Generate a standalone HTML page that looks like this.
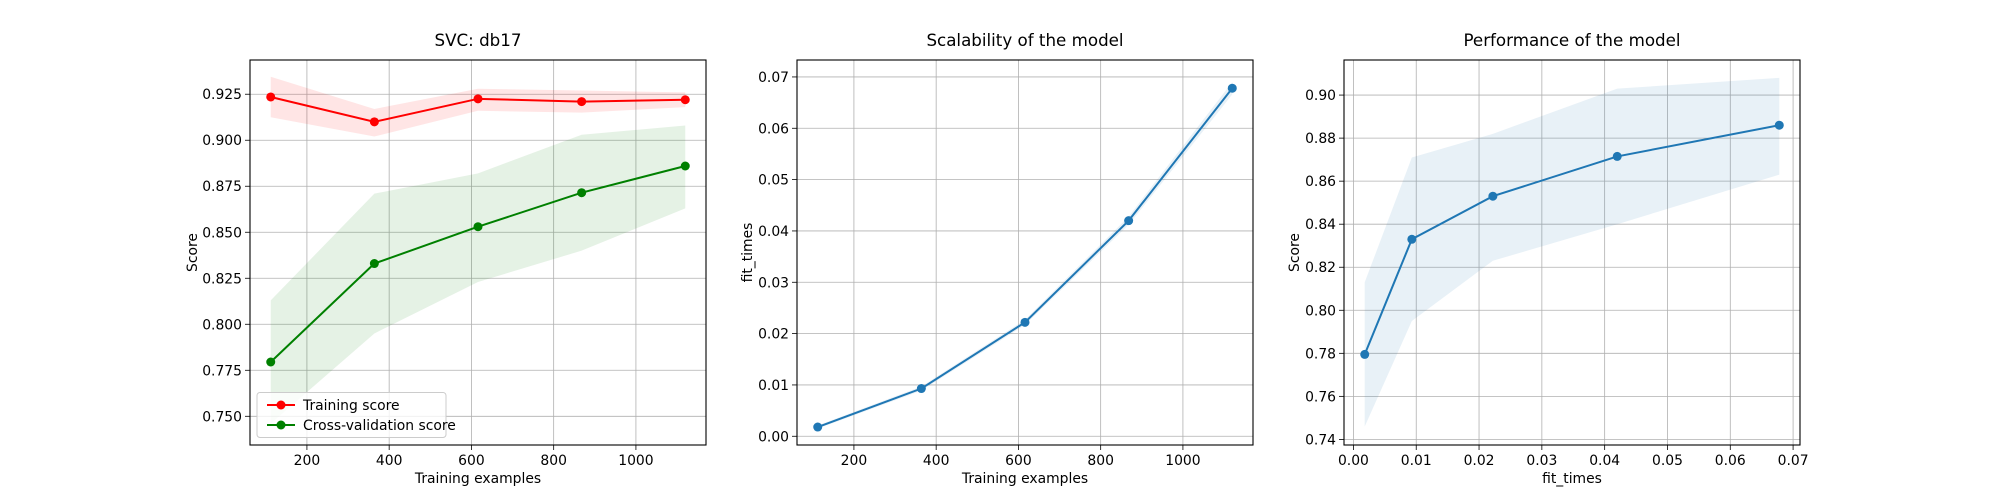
<!DOCTYPE html>
<html><head><meta charset="utf-8"><style>
body{margin:0;background:#fff;}
svg{display:block;font-family:"DejaVu Sans","Liberation Sans",sans-serif;}
</style></head><body>
<svg id="fig" width="2000" height="500" viewBox="0 0 2000 500" xmlns="http://www.w3.org/2000/svg"></svg>
<script>
const trainSizes=[112,364,616,868,1120];
const trainMean=[0.9235,0.910,0.9225,0.921,0.922];
const trainUpper=[0.9345,0.917,0.928,0.927,0.926];
const trainLower=[0.9125,0.902,0.916,0.915,0.918];
const cvMean=[0.7795,0.833,0.853,0.8715,0.886];
const cvUpper=[0.813,0.871,0.882,0.903,0.908];
const cvLower=[0.746,0.795,0.823,0.840,0.863];
const fitTimes=[0.0018,0.0093,0.0222,0.0420,0.0678];
const fitUpper=[0.0021,0.0097,0.0227,0.0428,0.0690];
const fitLower=[0.0015,0.0089,0.0217,0.0412,0.0666];
const ticks1X=[200,400,600,800,1000];
const ticks1Y=[0.750,0.775,0.800,0.825,0.850,0.875,0.900,0.925];
const ticks2Y=[0.00,0.01,0.02,0.03,0.04,0.05,0.06,0.07];
const ticks3X=[0.00,0.01,0.02,0.03,0.04,0.05,0.06,0.07];
const ticks3Y=[0.74,0.76,0.78,0.80,0.82,0.84,0.86,0.88,0.90];

const NS="http://www.w3.org/2000/svg";
const fig=document.getElementById('fig');
function mk(tag,attrs,parent,text){const e=document.createElementNS(NS,tag);for(const k in attrs)e.setAttribute(k,attrs[k]);if(text!==undefined)e.textContent=text;(parent||fig).appendChild(e);return e;}

function axes(o){
  const g=mk('g',{});
  
  
  const L=o.left,R=o.left+456,T=60,B=445;
  const sx=v=>L+(v-o.xlim[0])/(o.xlim[1]-o.xlim[0])*(R-L);
  const sy=v=>B-(v-o.ylim[0])/(o.ylim[1]-o.ylim[0])*(B-T);
  // grid
  o.xt.forEach(t=>{const x=sx(t);
    const l=mk('line',{x1:x,x2:x,y1:T,y2:B,stroke:'#b0b0b0','stroke-width':0.8},g);
    
    mk('line',{x1:x,x2:x,y1:B,y2:B+5,stroke:'#000','stroke-width':0.8},g);
    const tx=mk('text',{x:x,y:B+20,'font-size':13.9,'text-anchor':'middle'},g,o.xfmt(t));
    
  });
  o.yt.forEach(t=>{const y=sy(t);
    const l=mk('line',{x1:L,x2:R,y1:y,y2:y,stroke:'#b0b0b0','stroke-width':0.8},g);
    
    mk('line',{x1:L-5,x2:L,y1:y,y2:y,stroke:'#000','stroke-width':0.8},g);
    const tx=mk('text',{x:L-8,y:y+5,'font-size':13.9,'text-anchor':'end'},g,o.yfmt(t));
    
  });
  o.series.forEach(s=>{
    let pts=s.x.map((v,i)=>sx(v)+','+sy(s.up[i]));
    for(let i=s.x.length-1;i>=0;i--)pts.push(sx(s.x[i])+','+sy(s.lo[i]));
    const band=mk('polygon',{points:pts.join(' '),fill:s.color,'fill-opacity':0.1},g);
    
    const line=mk('polyline',{points:s.x.map((v,i)=>sx(v)+','+sy(s.y[i])).join(' '),fill:'none',stroke:s.color,'stroke-width':2},g);
    
    s.x.forEach((v,i)=>{const c=mk('circle',{cx:sx(v),cy:sy(s.y[i]),r:4.5,fill:s.color},g);
      });
  });
  mk('rect',{x:L,y:T,width:R-L,height:B-T,fill:'none',stroke:'#000','stroke-width':1.1},g);
  const ti=mk('text',{x:(L+R)/2,y:T-14,'font-size':16.7,'text-anchor':'middle'},g,o.title);
  
  const xl=mk('text',{x:(L+R)/2,y:B+38,'font-size':13.9,'text-anchor':'middle'},g,o.xlabel);
  
  const yx=L-o.ylabOff,yy=(T+B)/2;
  const yl=mk('text',{x:yx,y:yy,'font-size':13.9,'text-anchor':'middle',transform:`rotate(-90 ${yx} ${yy})`},g,o.ylabel);
  
  return {g,L,B};
}
const f3=v=>v.toFixed(3), f2=v=>v.toFixed(2), f0=v=>String(v);
const a1=axes({name:'learning-curve-axes',left:250,xlim:[61.6,1170.4],ylim:[0.7344,0.9436],xt:ticks1X,yt:ticks1Y,xfmt:f0,yfmt:f3,
  title:'SVC: db17',xlabel:'Training examples',ylabel:'Score',ylabOff:53,
  series:[{key:'training-score',x:trainSizes,y:trainMean,up:trainUpper,lo:trainLower,color:'#ff0000'},
          {key:'cv-score',x:trainSizes,y:cvMean,up:cvUpper,lo:cvLower,color:'#008000'}]});
axes({name:'scalability-axes',left:797,xlim:[61.6,1170.4],ylim:[-0.0017,0.0733],xt:ticks1X,yt:ticks2Y,xfmt:f0,yfmt:f2,
  title:'Scalability of the model',xlabel:'Training examples',ylabel:'fit_times',ylabOff:45,
  series:[{key:'fit-times',x:trainSizes,y:fitTimes,up:fitUpper,lo:fitLower,color:'#1f77b4'}]});
axes({name:'performance-axes',left:1344,xlim:[-0.0015,0.0711],ylim:[0.7374,0.9163],xt:ticks3X,yt:ticks3Y,xfmt:f2,yfmt:f2,
  title:'Performance of the model',xlabel:'fit_times',ylabel:'Score',ylabOff:45,
  series:[{key:'performance',x:fitTimes,y:cvMean,up:cvUpper,lo:cvLower,color:'#1f77b4'}]});
// legend
const lg=mk('g',{});

mk('rect',{x:257,y:392.5,width:189,height:45,rx:3,fill:'#fff','fill-opacity':0.8,stroke:'#ccc'},lg);
[['Training score','#ff0000',405],['Cross-validation score','#008000',425]].forEach(([t,c,y])=>{
  const e=mk('g',{},lg);
  
  mk('line',{x1:267,x2:295,y1:y,y2:y,stroke:c,'stroke-width':2},e);
  mk('circle',{cx:281,cy:y,r:4.5,fill:c},e);
  mk('text',{x:303,y:y+5,'font-size':13.9},e,t);
});
</script>
</body></html>
